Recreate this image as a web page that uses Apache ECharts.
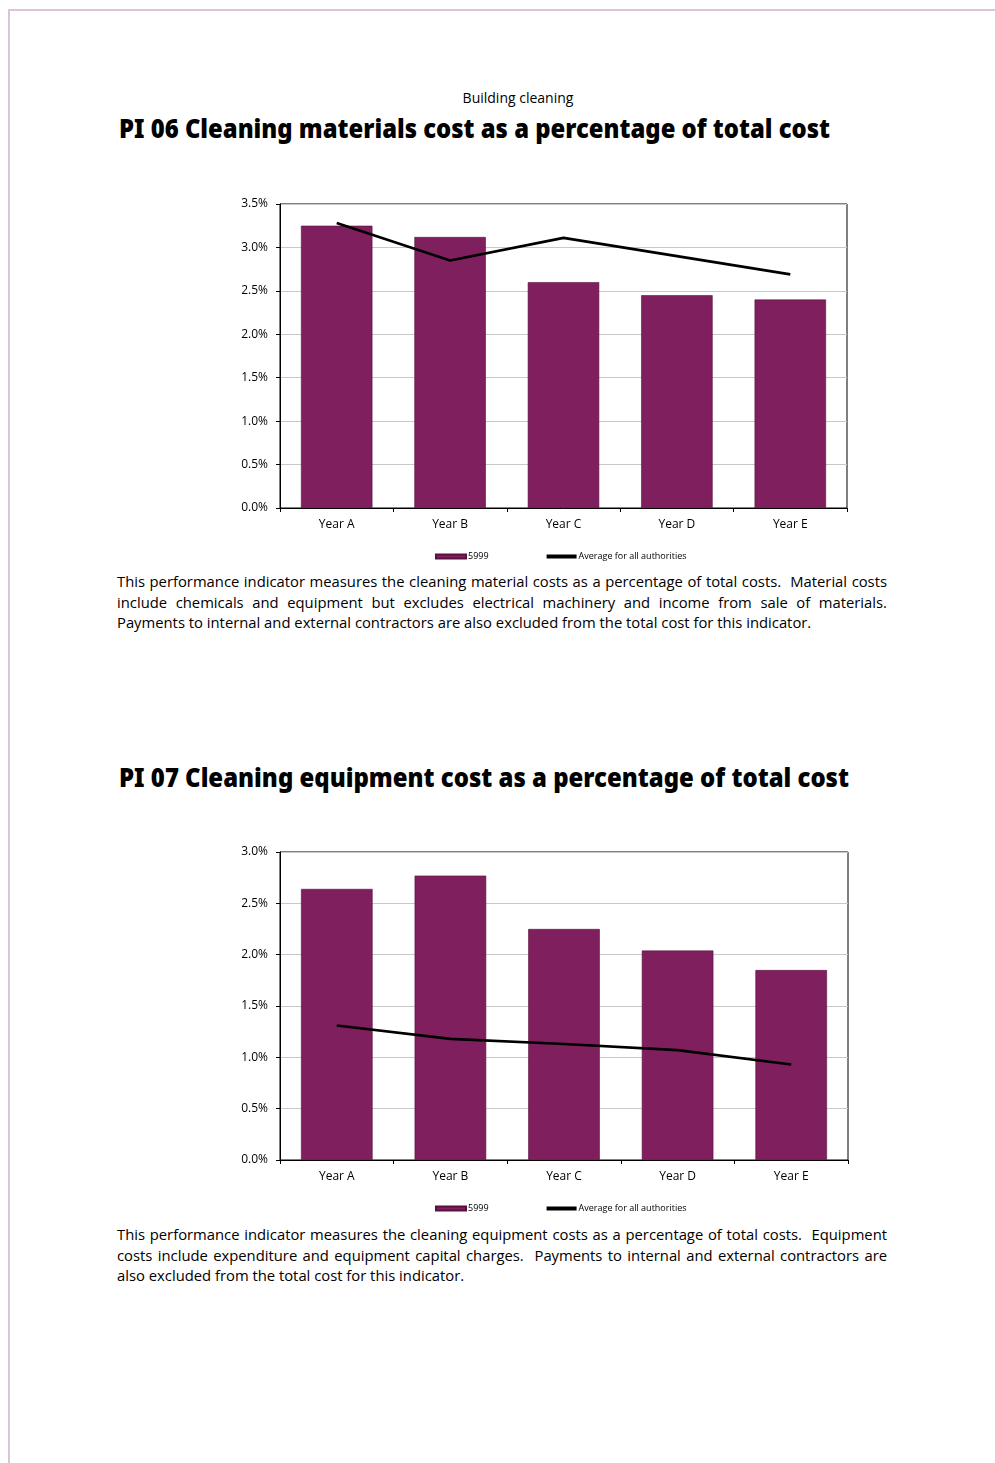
<!DOCTYPE html>
<html>
<head>
<meta charset="utf-8">
<script src="https://cdn.jsdelivr.net/npm/echarts@6/dist/echarts.min.js"></script>
<style>
  body { margin: 0; background: #fff; font-family: "Open Sans", "Noto Sans", sans-serif; }
  #page { position: relative; width: 995px; height: 1463px; overflow: hidden; }
  .edgeTop { position: absolute; left: 8px; top: 9px; width: 987px; height: 2px; background: #dcc3dc; }
  .edgeLeft { position: absolute; left: 8px; top: 9px; width: 2px; height: 1454px; background: #dcc3dc; }
  .head { position: absolute; left: 0; width: 1036px; text-align: center; top: 88px; font-size: 14px; color: #000; }
  .title { position: absolute; left: 119px; font-family: "Noto Sans", sans-serif; font-weight: 900; font-size: 26px; color: #000; white-space: nowrap; transform-origin: 0 50%; }
  .para { position: absolute; left: 117px; width: 770px; font-size: 14.8px; line-height: 20.5px; text-align: justify; color: #000; }
  .chart { position: absolute; left: 0; width: 995px; height: 380px; }
</style>
</head>
<body>
<div id="page">
  <div class="edgeTop"></div>
  <div class="edgeLeft"></div>
  <div class="head">Building cleaning</div>
  <div class="title" id="t06" style="top:110px" data-w="711">PI 06 Cleaning materials cost as a percentage of total cost</div>
  <div class="chart" id="pi06" style="top:190px"></div>
  <div class="para" style="top:571px">This performance indicator measures the cleaning material costs as a percentage of total costs.&nbsp; Material costs include chemicals and equipment but excludes electrical machinery and income from sale of materials. Payments to internal and external contractors are also excluded from the total cost for this indicator.</div>
  <div class="title" id="t07" style="top:759px" data-w="730">PI 07 Cleaning equipment cost as a percentage of total cost</div>
  <div class="chart" id="pi07" style="top:840px"></div>
  <div class="para" style="top:1224px">This performance indicator measures the cleaning equipment costs as a percentage of total costs.&nbsp; Equipment costs include expenditure and equipment capital charges.&nbsp; Payments to internal and external contractors are also excluded from the total cost for this indicator.</div>
</div>
<script>
const years = ["Year A", "Year B", "Year C", "Year D", "Year E"];
const barName = "5999";
const lineName = "Average for all authorities";
// PI 06 values (%)
const pi06Council = [3.25, 3.12, 2.60, 2.45, 2.40];
const pi06Average = [3.28, 2.85, 3.11, 2.90, 2.69];
// PI 07 values (%)
const pi07Council = [2.64, 2.77, 2.25, 2.04, 1.85];
const pi07Average = [1.31, 1.18, 1.13, 1.07, 0.93];

const purple = "#7f1f5e";

//stretch titles to the width they have in the print
document.querySelectorAll(".title").forEach(el => {
  const w = el.getBoundingClientRect().width;
  el.style.transform = "scaleX(" + (Number(el.dataset.w) / w) + ")";
});

//build one chart
function drawChart(id, council, average, max, gridTop, gridHeight, gridWidth, legendTop) {
  const myChart = echarts.init(document.getElementById(id));
  const option = {
    animation: false,
    textStyle: { fontFamily: "Open Sans" },
    grid: { left: 280, top: gridTop, width: gridWidth, height: gridHeight, show: true, borderColor: "#000", borderWidth: 1 },
    legend: {
      left: 430,
      top: legendTop,
      itemWidth: 30,
      itemHeight: 4,
      itemGap: 58,
      textStyle: { fontSize: 9, color: "#000", padding: [0, 0, 0, -3] },
      data: [
        { name: barName, icon: "rect" },
        { name: lineName, icon: "rect" }
      ]
    },
    xAxis: {
      type: "category",
      data: years,
      axisLine: { lineStyle: { color: "#000", width: 1 } },
      axisTick: { show: true, length: 4, lineStyle: { color: "#000" } },
      axisLabel: { fontSize: 12, color: "#000", margin: 11 },
      splitLine: { show: false }
    },
    yAxis: {
      type: "value",
      min: 0,
      max: max,
      interval: 0.5,
      axisLine: { show: true, lineStyle: { color: "#000" } },
      axisTick: { show: true, length: 4, lineStyle: { color: "#000" } },
      axisLabel: { fontSize: 12, color: "#000", margin: 12, formatter: v => v.toFixed(1) + "%" },
      splitLine: { lineStyle: { color: "#c8c8c8", width: 1 } }
    },
    series: [
      {
        name: barName,
        type: "bar",
        data: council,
        barCategoryGap: "37%",
        itemStyle: { color: purple, borderColor: "#5a1040", borderWidth: 0.6 }
      },
      {
        name: lineName,
        type: "line",
        data: average,
        showSymbol: false,
        symbol: "none",
        itemStyle: { color: "#000" },
        lineStyle: { color: "#000", width: 2.6 }
      }
    ]
  };
  myChart.setOption(option);
}

drawChart("pi06", pi06Council, pi06Average, 3.5, 14, 304, 567, 357);
drawChart("pi07", pi07Council, pi07Average, 3.0, 12, 308, 568, 359);
</script>
</body>
</html>
